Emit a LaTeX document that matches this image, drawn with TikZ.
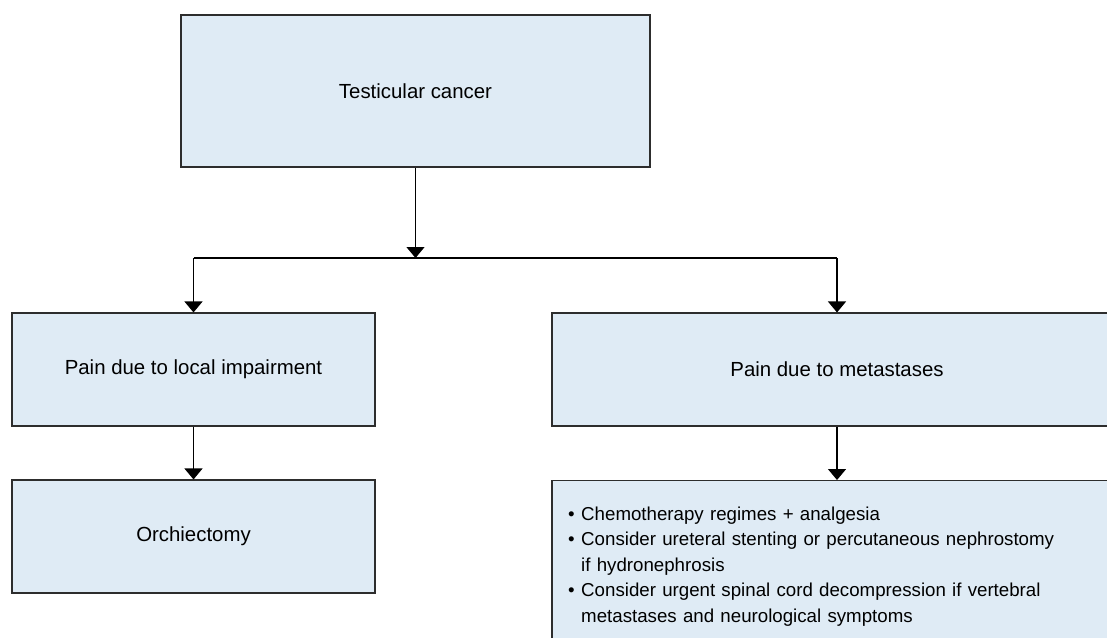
\documentclass[tikz,border=0pt]{standalone}
\usepackage{fontspec}
\setmainfont{Liberation Sans}
\usetikzlibrary{arrows.meta}
\definecolor{boxfill}{RGB}{223,235,245}
\definecolor{boxline}{RGB}{45,45,45}
\tikzset{
  flowbox/.style={draw=boxline, line width=1.1pt, fill=boxfill, rectangle,
    inner sep=0pt, font=\fontsize{20.4}{25.6}\selectfont},
  link/.style={draw=black, line width=1.3pt},
  linkarrow/.style={link, -{Triangle[width=18pt,length=11pt]}},
  item/.style={font=\fontsize{18.7}{25.6}\selectfont, inner sep=0pt,
    text width=540pt, align=left},
}
\newcommand{\bulletitem}[1]{\hangindent=13pt\hangafter=1\noindent\makebox[13pt][l]{\textbullet}#1\par}
\begin{document}
\begin{tikzpicture}[x=1pt,y=-1pt]
  \useasboundingbox (0,0) rectangle (1107,637);
  \clip (0,0) rectangle (1107,637);
  \fill[white] (0,0) rectangle (1107,637);

  % boxes
  \node[flowbox, minimum width=469pt, minimum height=152pt] (top) at (415.5,91) {Testicular cancer};
  \node[flowbox, minimum width=363pt, minimum height=113pt] (local) at (193.5,369.5) {Pain due to local impairment};
  \node[flowbox, minimum width=363pt, minimum height=113pt] (orch) at (193.5,536.5) {Orchiectomy};
  \node[flowbox, minimum width=570pt, minimum height=113pt] (meta) at (837,369.5) {Pain due to metastases};
  \node[flowbox, minimum width=570pt, minimum height=180pt, anchor=north] (treat) at (837,480) {};
  \node[item, anchor=base west] (treattext) at (568,520) {\hyphenpenalty=10000
    \bulletitem{Chemotherapy regimes + analgesia}%
    \bulletitem{Consider ureteral stenting or percutaneous nephrostomy\newline if hydronephrosis}%
    \bulletitem{Consider urgent spinal cord decompression if vertebral\newline metastases and neurological symptoms}};

  % connectors
  \coordinate (split) at (top.south |- 0,258);
  \coordinate (splitL) at (local.north |- split);
  \coordinate (splitR) at (meta.north |- split);
  \draw[linkarrow] (top.south) -- (split);
  \draw[link] (splitL) -- (splitR);
  \draw[linkarrow] (splitL) -- (local.north);
  \draw[linkarrow] (splitR) -- (meta.north);
  \draw[linkarrow] (local.south) -- (orch.north);
  \draw[linkarrow] (meta.south) -- (treat.north);
\end{tikzpicture}
\end{document}
